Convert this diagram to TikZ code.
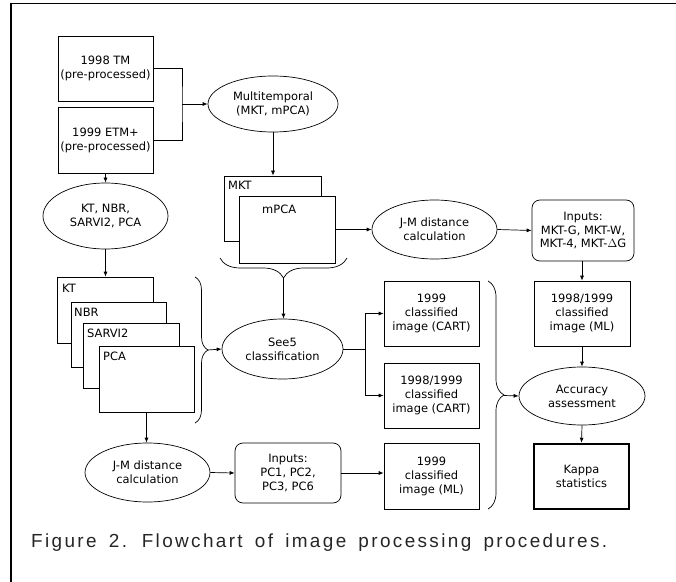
\documentclass[tikz,border=0pt]{standalone}
\usepackage{fontspec}
\setmainfont{DejaVu Sans}
\newfontfamily\capfont[LetterSpace=12.5,WordSpace=1.6]{Liberation Sans}
\usetikzlibrary{arrows.meta,decorations.pathreplacing,shapes.geometric}
\begin{document}
\begin{tikzpicture}[x=1bp,y=-1bp,
  font=\fontsize{11.5}{14}\selectfont,
  box/.style={draw,rectangle,inner sep=0pt,align=center,line width=0.7bp,fill=white},
  rbox/.style={box,rounded corners=8bp},
  ell/.style={draw,ellipse,inner sep=0pt,align=center,line width=0.7bp},
  lbl/.style={anchor=base west,inner sep=0pt},
  conn/.style={line width=0.7bp,-{Latex[length=5bp,width=4bp]}},
  plain/.style={line width=0.7bp},
  brc/.style={line width=0.7bp,decorate,decoration={brace,amplitude=#1}}]
\useasboundingbox (0,0) rectangle (676,582);
% frame
\draw[line width=1.5bp] (11,582) -- (11,3.5) -- (676,3.5);

% top-left inputs
\node[box,minimum width=95bp,minimum height=65bp] (tm) at (105.5,68.5) {1998 TM\\(pre-processed)};
\node[box,minimum width=95bp,minimum height=66bp] (etm) at (105.5,140) {1999 ETM+\\(pre-processed)};
\node[ell,minimum width=130bp,minimum height=56bp] (multi) at (273,104) {Multitemporal\\(MKT, mPCA)};
\coordinate (j1) at (182,104);
\draw[plain] (tm.east) -| (j1) |- (etm.east);
\draw[conn] (j1) -- (multi.west);

% MKT / mPCA stack
\node[box,minimum width=97bp,minimum height=65bp] (mkt) at (272.5,208.5) {};
\node[lbl] (mktl) at (228,190) {MKT};
\node[box,minimum width=96bp,minimum height=67bp] (mpca) at (287,229.5) {};
\node[lbl] (mpcal) at (262,213) {mPCA};
\draw[conn] (multi.south) -- (multi.south |- mkt.north);

% J-M top
\node[ell,minimum width=125bp,minimum height=59bp] (jm1) at (434.5,229.5) {J-M distance\\calculation};
\node[rbox,minimum width=102bp,minimum height=61bp] (inmkt) at (583,230.5) {Inputs:\\MKT-G, MKT-W,\\MKT-4, MKT-$\Delta$G};
\draw[conn] (mpca.east) -- (jm1.west);
\draw[conn] (jm1.east) -- (inmkt.west);

% right column
\node[box,minimum width=96bp,minimum height=65bp] (ml9899) at (582,313.5) {1998/1999\\classified\\image (ML)};
\node[ell,minimum width=126bp,minimum height=58bp] (acc) at (582,396) {Accuracy\\assessment};
\node[box,line width=2.5bp,minimum width=95bp,minimum height=65bp] (kappa) at (581.5,476.5) {Kappa\\statistics};
\draw[conn] (inmkt.south -| ml9899.north) -- (ml9899.north);
\draw[conn] (ml9899.south) -- (acc.north);
\draw[conn] (acc.south) -- (kappa.north);

% left stack
\node[ell,minimum width=125bp,minimum height=66bp] (kte) at (105.5,216) {KT, NBR,\\SARVI2, PCA};
\draw[conn] (etm.south) -- (kte.north);
\node[box,minimum width=96bp,minimum height=66bp] (kt) at (105,310) {};
\node[lbl] (ktl) at (62,292) {KT};
\node[box,minimum width=95bp,minimum height=65bp] (nbr) at (118.5,334.5) {};
\node[lbl] (nbrl) at (74,316) {NBR};
\node[box,minimum width=96bp,minimum height=65bp] (sarvi) at (131,355.5) {};
\node[lbl] (sarvil) at (87,337) {SARVI2};
\node[box,minimum width=95bp,minimum height=66bp] (pca) at (146.5,379) {};
\node[lbl] (pcal) at (103,360) {PCA};
\draw[conn] (kte.south) -- (kte.south |- kt.north);

% See5
\node[ell,minimum width=121bp,minimum height=60bp] (see5) at (282.5,349) {See5\\classification};
\draw[brc=13bp] (195,277) -- (195,423);
\coordinate (b1) at (208,350);
\draw[conn] (b1) -- (see5.west);
\draw[brc=20bp] (347,258) -- (220,258);
\coordinate (b2) at (283.5,278);
\draw[conn] (b2) -- (b2 |- see5.north);

% CART outputs
\node[box,minimum width=95bp,minimum height=65bp] (cart99) at (431.5,313.5) {1999\\classified\\image (CART)};
\node[box,minimum width=95bp,minimum height=65bp] (cart9899) at (431.5,395.5) {1998/1999\\classified\\image (CART)};
\node[box,minimum width=95bp,minimum height=66bp] (ml99) at (431.5,476) {1999\\classified\\image (ML)};
\coordinate (sp) at (365,349);
\draw[plain] (see5.east) -- (sp);
\draw[conn] (sp) |- (cart99.west);
\draw[conn] (sp) |- (cart9899.west);

% bottom J-M
\node[ell,minimum width=125bp,minimum height=59bp] (jm2) at (147.5,472.5) {J-M distance\\calculation};
\node[rbox,minimum width=106bp,minimum height=60bp] (inpc) at (288,473) {Inputs:\\PC1, PC2,\\PC3, PC6};
\draw[conn] (pca.south) -- (pca.south |- jm2.north);
\draw[conn] (jm2.east) -- (inpc.west);
\draw[conn] (inpc.east) -- (inpc.east -| ml99.west);

% right brace
\draw[brc=16bp] (488,281) -- (488,509);
\coordinate (b3) at (504,395.5);
\draw[conn] (b3) -- (acc.west);

% caption
\node[anchor=base west,inner sep=0pt,text=black!85] (cap) at (31,547)
  {\capfont\fontsize{19}{21}\selectfont Figure 2. Flowchart of image processing procedures.};
\end{tikzpicture}
\end{document}
